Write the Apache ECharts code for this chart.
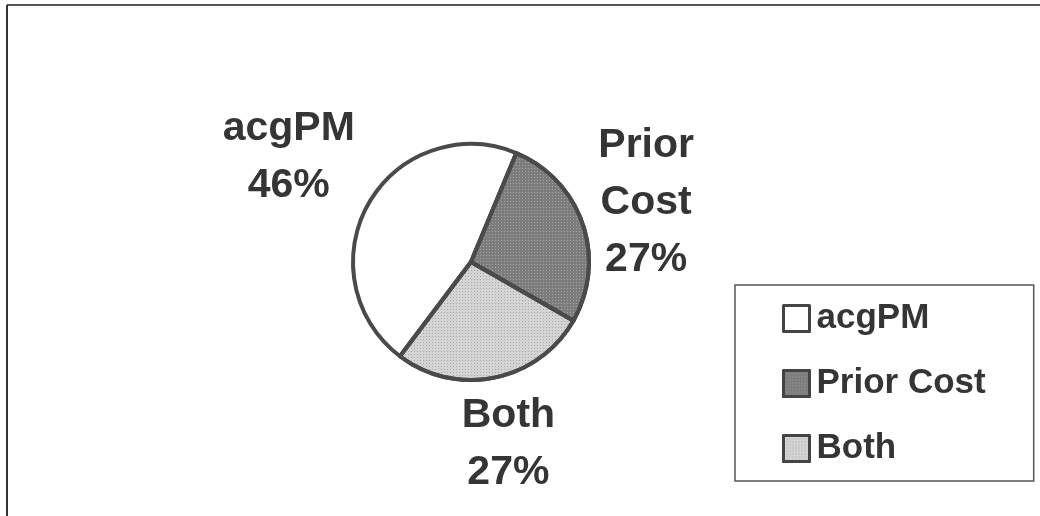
<!DOCTYPE html>
<html>
<head>
<meta charset="utf-8">
<script src="https://cdn.jsdelivr.net/npm/echarts@6/dist/echarts.min.js"></script>
<style>
    html, body { margin: 0; padding: 0; background: #fff; }
    #chart { width: 1040px; height: 516px; }
</style>
</head>
<body>
<div id="chart"></div>
<script>
    // 数据
    var categories = ['acgPM', 'Prior Cost', 'Both'];
    var shares = [46, 27, 27];
    var sliceLabels = ['acgPM\n46%', 'Prior\nCost\n27%', 'Both\n27%'];

    // 样式
    var pieCenter = [471, 262];
    var pieRadius = 118;
    var startAngle = 233;
    var labelDistance = [210, 185, 186];
    var sliceColors = ['#ffffff', '#7c7c7c', '#d4d4d4'];
    var decals = [
        null,
        {symbol: 'rect', color: 'rgba(255,255,255,0.3)', dashArrayX: [1, 2], dashArrayY: [1, 2], symbolSize: 1, rotation: 0},
        {symbol: 'rect', color: 'rgba(90,90,90,0.35)', dashArrayX: [1, 2], dashArrayY: [1, 2], symbolSize: 1, rotation: 0}
    ];

    var total = shares.reduce(function (a, b) { return a + b; }, 0);

    var pieData = categories.map(function (name, i) {
        var item = {
            name: name,
            value: shares[i],
            itemStyle: {color: sliceColors[i]}
        };
        if (decals[i]) {
            item.itemStyle.decal = decals[i];
        }
        return item;
    });

    var chart = echarts.init(document.getElementById('chart'));
    var option = {
        backgroundColor: '#ffffff',
        animation: false,
        graphic: [
            {type: 'line', shape: {x1: 7, y1: 5, x2: 1040, y2: 5}, style: {stroke: '#555', lineWidth: 2}},
            {type: 'line', shape: {x1: 7, y1: 5, x2: 7, y2: 516}, style: {stroke: '#333', lineWidth: 2}}
        ],
        legend: {
            orient: 'vertical',
            left: 735,
            top: 285,
            padding: [16, 48, 15, 47],
            itemGap: 30,
            itemWidth: 26,
            itemHeight: 26,
            icon: 'rect',
            backgroundColor: '#ffffff',
            borderColor: '#555',
            borderWidth: 1.5,
            borderRadius: 0,
            itemStyle: {borderColor: '#444', borderWidth: 3},
            textStyle: {
                fontFamily: 'Liberation Sans, Arial, sans-serif',
                fontWeight: 'bold',
                fontSize: 35,
                lineHeight: 33,
                color: '#353535',
                padding: [0, 0, 0, 2]
            },
            data: categories
        },
        series: [
            {
                name: 'share',
                type: 'pie',
                center: pieCenter,
                radius: pieRadius,
                startAngle: startAngle,
                clockwise: true,
                data: pieData,
                itemStyle: {
                    borderColor: '#4a4a4a',
                    borderWidth: 4
                },
                label: {
                    show: true,
                    position: 'outside',
                    formatter: function (p) { return sliceLabels[p.dataIndex]; },
                    fontFamily: 'Liberation Sans, Arial, sans-serif',
                    fontWeight: 'bold',
                    fontSize: 41,
                    lineHeight: 57,
                    color: '#353535'
                },
                labelLine: {show: false},
                labelLayout: function (params) {
                    var i = params.dataIndex;
                    var before = 0;
                    for (var k = 0; k < i; k++) before += shares[k];
                    var mid = (before + shares[i] / 2) / total * 360;
                    // 角度: 顺时针, 从 startAngle 开始
                    var a = (startAngle - mid) * Math.PI / 180;
                    return {
                        x: pieCenter[0] + labelDistance[i] * Math.cos(a),
                        y: pieCenter[1] - labelDistance[i] * Math.sin(a),
                        align: 'center',
                        verticalAlign: 'middle'
                    };
                },
                emphasis: {disabled: true}
            }
        ]
    };
    chart.setOption(option);
</script>
</body>
</html>
